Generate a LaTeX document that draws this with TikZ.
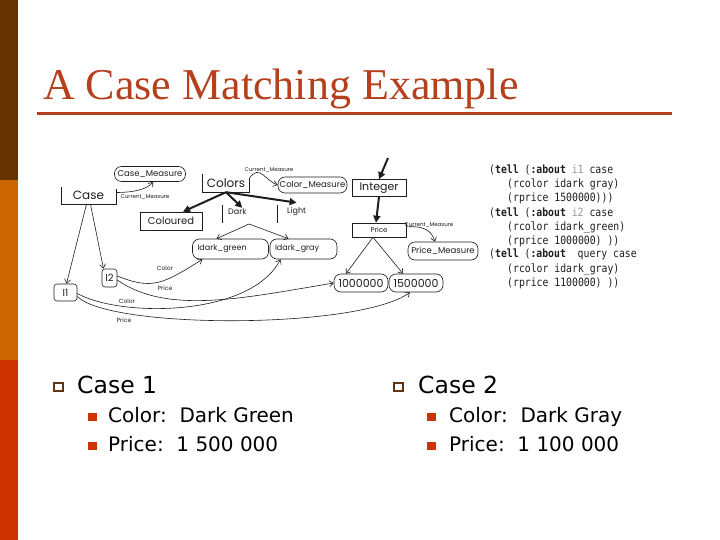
\documentclass[tikz,border=0pt]{standalone}
\usepackage{fontspec}
\setmainfont{Liberation Serif}
\newfontfamily\bulletfont{DejaVu Sans}
\newfontfamily\diafont{Poppins}
\setmonofont[FakeStretch=0.86]{DejaVu Sans Mono}
\usetikzlibrary{arrows.meta,calc}
\definecolor{stripebrown}{RGB}{102,51,0}
\definecolor{stripeorange}{RGB}{204,102,0}
\definecolor{stripered}{RGB}{204,51,0}
\definecolor{titlecol}{RGB}{180,64,30}
\definecolor{bulletbrown}{RGB}{96,52,18}
\definecolor{codegray}{RGB}{150,150,150}
\definecolor{inkcol}{RGB}{30,30,30}
\begin{document}
\begin{tikzpicture}[x=1pt,y=-1pt,
  dtext/.style={font=\diafont\fontsize{#1}{#1}\selectfont, inner sep=0pt, text=inkcol},
  btext/.style={font=\bulletfont\fontsize{#1}{#1}\selectfont, inner sep=0pt, anchor=base west},
  code/.style={font=\ttfamily\fontsize{11.4}{12}\selectfont, inner sep=0pt, anchor=base west, text=inkcol},
  rbox/.style={draw=inkcol, rounded corners=7pt, line width=0.6pt},
  sbox/.style={draw=inkcol, line width=0.6pt},
  frameline/.style={draw=inkcol, line width=0.6pt},
  thinarr/.style={draw=inkcol, line width=0.6pt, -{Straight Barb[length=4pt,width=6pt]}},
  bigarr/.style={draw=inkcol, line width=2pt, -{Triangle[length=7pt,width=7pt]}},
  hollowsq/.style={draw=bulletbrown, line width=2pt, minimum width=9pt, minimum height=8pt, inner sep=0pt},
  fillsq/.style={fill=stripered, minimum width=9pt, minimum height=8pt, inner sep=0pt}
]
\useasboundingbox (0,0) rectangle (720,540);
\fill[white] (0,0) rectangle (720,540);
% left stripe
\fill[stripebrown] (0,0) rectangle (18,180);
\fill[stripeorange] (0,180) rectangle (18,360);
\fill[stripered] (0,360) rectangle (18,540);
% title
\node[anchor=base west, inner sep=0pt, text=titlecol, font=\fontsize{44}{50}\selectfont] (title) at (43,100) {A Case Matching Example};
\draw[titlecol, line width=3pt] (37,114) -- (672,114);

% ---------------- diagram ----------------
\node[rbox, dtext=8.5, minimum width=71pt, minimum height=15pt] (casem) at (150,174) {Case\_Measure};
\node[dtext=12, minimum width=55pt, minimum height=17pt] (case) at (88.5,195.5) {Case};
\draw[frameline] (case.north west) -- (case.south west) -- (case.south east) -- ([yshift=-2pt]case.north east);
\node[dtext=5.5] (cm1) at (145,197) {Current\_Measure};

\node[dtext=12, minimum width=47pt, minimum height=18pt] (colors) at (226,183) {Colors};
\draw[frameline] (colors.north west) -- (colors.south west) -- (colors.south east) -- ([yshift=-4pt]colors.north east);
\node[dtext=5.5] (cm2) at (269,170) {Current\_Measure};
\node[rbox, dtext=8.5, minimum width=69pt, minimum height=16pt] (colm) at (312.5,185) {Color\_Measure};

\node[sbox, dtext=11, minimum width=54pt, minimum height=17pt] (integer) at (379,188) {Integer};
\node[sbox, dtext=10, minimum width=62pt, minimum height=18pt] (coloured) at (171,221) {Coloured};

\node[dtext=8, anchor=west] (dark) at (228,212) {Dark};
\draw[frameline] (222,205) -- (222,223);
\node[dtext=8, anchor=west] (light) at (287,212) {Light};
\draw[frameline] (277,205) -- (277,223);

\node[rbox, dtext=8, inner xsep=5pt, text width=66pt, align=left, minimum height=20pt] (idg) at (230.5,249) {Idark\_green};
\node[rbox, dtext=8, inner xsep=5pt, text width=57pt, align=left, minimum height=20pt] (idgr) at (303.5,249) {Idark\_gray};

\node[sbox, dtext=7, minimum width=54pt, minimum height=14pt] (price) at (379,230) {Price};
\node[dtext=5.5] (cm3) at (429,225) {Current\_Measure};
\node[rbox, dtext=8.5, minimum width=70pt, minimum height=18pt] (pricem) at (443,251) {Price\_Measure};

\node[rbox, dtext=11, minimum width=54pt, minimum height=18pt] (n1) at (361,283) {1000000};
\node[rbox, dtext=11, minimum width=54pt, minimum height=18pt] (n2) at (416,283) {1500000};

\node[rbox, rounded corners=3pt, dtext=10, minimum width=15pt, minimum height=18pt] (i2) at (109.5,278) {I2};
\node[rbox, rounded corners=3pt, dtext=10, minimum width=23pt, minimum height=17pt] (i1) at (65.5,292.5) {I1};

\node[dtext=6] (lc1) at (165,268) {Color};
\node[dtext=6] (lp1) at (165,288) {Price};
\node[dtext=6] (lc2) at (127,301) {Color};
\node[dtext=6] (lp2) at (124,320) {Price};

% connectors
\draw[thinarr] ([yshift=3pt]case.east) .. controls +(16,0) and +(-6,8) .. ([xshift=3pt]casem.south);
\draw[thinarr] ([yshift=-4pt]colors.north east) .. controls +(10,-14) and +(-12,-4) .. (colm.west);
\draw[thinarr] ([yshift=3pt]price.east) .. controls +(20,-2) and +(-3,-9) .. ([xshift=-8pt]pricem.north);

\draw[bigarr] (colors.south) -- ([xshift=12pt]coloured.north);
\draw[bigarr] (colors.south) -- ([xshift=5pt,yshift=1pt]dark.north);
\draw[bigarr] (colors.south) -- ([yshift=5pt]light.north);

\coordinate (dk) at (249,224);
\draw[thinarr] (dk) -- ([xshift=-14pt]idg.north);
\draw[thinarr] (dk) -- ([xshift=-15pt]idgr.north);

\coordinate (intop) at (388,158);
\draw[bigarr] (intop) -- (integer.north);
\draw[bigarr] (integer.south) -- ([xshift=-3pt]price.north);
\draw[thinarr] ([xshift=-6pt]price.south) -- ([xshift=-15pt]n1.north);
\draw[thinarr] ([xshift=-6pt]price.south) -- ([xshift=-13pt]n2.north);

\draw[thinarr] ([xshift=-2pt]case.south) -- ([xshift=1pt]i1.north);
\draw[thinarr] ([xshift=2pt]case.south) -- ([xshift=-6pt]i2.north);

\draw[thinarr] ([yshift=2pt]i2.east) .. controls +(35,14) and +(-40,25) .. ([xshift=-28pt]idg.south);
\draw[thinarr] ([yshift=-2pt]i2.east) .. controls +(50,35) and +(-90,15) .. (n1.west);
\draw[thinarr] ([yshift=-1pt]i1.east) .. controls +(43,24) and +(-30,58) .. ([xshift=-23pt]idgr.south);
\draw[thinarr] ([yshift=-4pt]i1.east) .. controls +(33,33) and +(-50,37) .. ([xshift=-6pt]n2.south);

% code
\node[code] (t1) at (489,174) {(\textbf{tell} (\textbf{:about} \textcolor{codegray}{i1} case};
\node[code] (t2) at (507,188) {(rcolor idark gray)};
\node[code] (t3) at (507,202) {(rprice 1500000)))};
\node[code] (t4) at (489,216) {(\textbf{tell} (\textbf{:about} \textcolor{codegray}{i2} case};
\node[code] (t5) at (507,230) {(rcolor idark\_green)};
\node[code] (t6) at (507,244) {(rprice 1000000) ))};
\node[code] (t7) at (489,258) {(\textbf{tell} (\textbf{:about}\ \ query case};
\node[code] (t8) at (507,272) {(rcolor idark\_gray)};
\node[code] (t9) at (507,286) {(rprice 1100000) ))};

% ---------------- bullets ----------------
\node[hollowsq] (b1) at (58,387) {};
\node[btext=23.5] (c1) at (77,393) {Case 1};
\node[fillsq] (s1) at (92,417) {};
\node[btext=20] (c1a) at (108,422) {Color:\ \ Dark Green};
\node[fillsq] (s2) at (92,446) {};
\node[btext=20] (c1b) at (108,451) {Price:\ \ 1 500 000};

\node[hollowsq] (b2) at (398,387) {};
\node[btext=23.5] (c2) at (418,393) {Case 2};
\node[fillsq] (s3) at (431,417) {};
\node[btext=20] (c2a) at (449,422) {Color:\ \ Dark Gray};
\node[fillsq] (s4) at (431,446) {};
\node[btext=20] (c2b) at (449,451) {Price:\ \ 1 100 000};
\end{tikzpicture}
\end{document}
